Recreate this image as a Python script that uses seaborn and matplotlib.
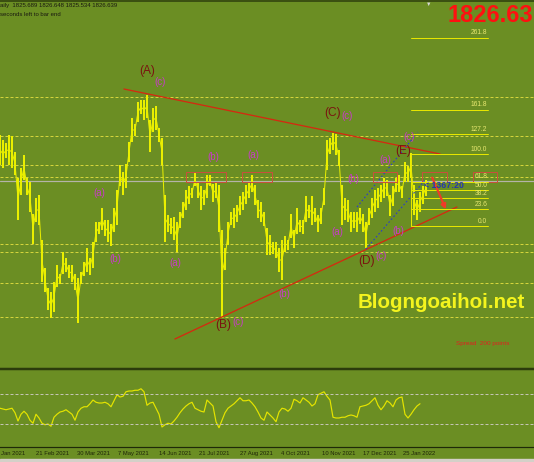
import matplotlib
matplotlib.use("Agg")
import matplotlib.pyplot as plt
import seaborn as sns
import numpy as np
import pandas as pd

# ---------------- data ----------------
bar_high = [1873, 1868, 1865, 1873, 1872, 1856, 1830, 1840, 1853, 1830,
            1826, 1794, 1810, 1813, 1768, 1740, 1720, 1716, 1726, 1743,
            1734, 1756, 1750, 1743, 1743, 1734, 1730, 1736, 1746, 1760,
            1750, 1766, 1786, 1786, 1800, 1788, 1788, 1784, 1800, 1818,
            1843, 1836, 1844, 1866, 1890, 1884, 1906, 1908, 1908, 1913,
            1888, 1900, 1902, 1880, 1870, 1813, 1793, 1790, 1791, 1786,
            1796, 1806, 1818, 1822, 1820, 1836, 1826, 1822, 1818, 1833,
            1833, 1824, 1826, 1823, 1778, 1760, 1786, 1796, 1800, 1803,
            1812, 1816, 1823, 1826, 1833, 1823, 1808, 1806, 1796, 1780,
            1773, 1766, 1766, 1760, 1768, 1772, 1768, 1794, 1778, 1800,
            1788, 1788, 1812, 1803, 1812, 1800, 1793, 1800, 1820, 1868,
            1870, 1875, 1874, 1858, 1823, 1810, 1808, 1796, 1796, 1796,
            1800, 1794, 1786, 1800, 1810, 1818, 1820, 1823, 1830, 1828,
            1813, 1822, 1830, 1833, 1822, 1846, 1842, 1855, 1823, 1808,
            1816, 1822, 1828]
bar_low = [1843, 1840, 1850, 1843, 1840, 1833, 1788, 1813, 1828, 1813,
           1796, 1764, 1786, 1783, 1726, 1716, 1698, 1690, 1696, 1721,
           1724, 1734, 1736, 1730, 1726, 1718, 1685, 1724, 1732, 1736,
           1733, 1740, 1766, 1774, 1778, 1772, 1766, 1762, 1776, 1783,
           1822, 1813, 1820, 1846, 1866, 1872, 1886, 1894, 1888, 1890,
           1856, 1876, 1878, 1866, 1843, 1766, 1776, 1774, 1768, 1756,
           1780, 1790, 1798, 1804, 1810, 1822, 1810, 1798, 1803, 1810,
           1822, 1806, 1810, 1776, 1690, 1738, 1763, 1783, 1780, 1786,
           1793, 1798, 1804, 1810, 1816, 1803, 1790, 1786, 1782, 1753,
           1753, 1754, 1750, 1736, 1728, 1756, 1758, 1770, 1760, 1774,
           1776, 1774, 1786, 1790, 1783, 1786, 1776, 1784, 1803, 1838,
           1854, 1858, 1853, 1842, 1783, 1788, 1786, 1776, 1780, 1776,
           1784, 1776, 1760, 1783, 1790, 1796, 1800, 1806, 1810, 1812,
           1792, 1802, 1816, 1816, 1810, 1826, 1826, 1830, 1793, 1788,
           1796, 1804, 1812]
osc = [51, 50, 49, 50, 51, 45, 34, 43, 47, 43, 35, 31, 43, 38, 31, 29, 30, 27,
       39, 43, 46, 47, 49, 46, 43, 35, 46, 51, 53, 53, 57, 62, 59, 58, 58, 59,
       57, 53, 61, 69, 66, 67, 73, 74, 74, 75, 75, 77, 73, 55, 58, 59, 51, 43,
       26, 29, 31, 30, 34, 39, 45, 50, 54, 57, 59, 51, 49, 47, 46, 62, 58, 54,
       33, 25, 35, 45, 51, 54, 57, 61, 65, 61, 61, 62, 58, 53, 46, 38, 35, 46,
       42, 38, 33, 46, 51, 50, 47, 51, 63, 61, 58, 65, 62, 59, 54, 57, 69, 71,
       73, 67, 62, 39, 38, 38, 39, 39, 41, 42, 41, 39, 53, 54, 55, 57, 61, 65,
       55, 49, 54, 61, 58, 53, 62, 65, 66, 43, 38, 43, 49, 54, 57]

tick_pos = [0.0, 11.67, 25.27, 38.87, 52.47, 66.07, 79.67, 93.27, 106.87, 120.47, 134.07]
tick_labels = ["Jan 2021", "21 Feb 2021", "30 Mar 2021", "7 May 2021", "14 Jun 2021",
               "21 Jul 2021", "27 Aug 2021", "4 Oct 2021", "10 Nov 2021", "17 Dec 2021",
               "25 Jan 2022"]

level_prices = [1911, 1872, 1843, 1831, 1764, 1756, 1725, 1691]
current_price = 1826.63
fib_high, fib_low = 1854, 1782
fib_ratios = [0.0, 23.6, 38.2, 50.0, 61.8, 100.0, 127.2, 161.8, 261.8]
fib_start, fib_end = 137.0, 162.7

major_waves = ["(A)", "(B)", "(C)", "(D)", "(E)"]
major_x = [49.0, 74.5, 111.0, 122.3, 134.3]
major_y = [1937, 1683, 1895, 1747, 1857]
minor_waves = ["(c)", "(b)", "(a)", "(a)", "(b)", "(a)", "(c)", "(b)", "(c)", "(b)",
               "(a)", "(a)", "(b)", "(c)", "(c)"]
minor_x = [53.3, 71.0, 84.3, 33.0, 38.3, 58.3, 79.2, 94.7, 115.8, 117.7, 112.3, 128.3,
           132.7, 127.0, 136.3]
minor_y = [1926, 1851, 1853, 1815, 1749, 1745, 1686, 1714, 1892, 1829, 1776, 1848,
           1777, 1752, 1871]

upper_trend_x, upper_trend_y = [41.3, 146.7], [1919, 1854]
lower_trend_x, lower_trend_y = [58.3, 152.3], [1669, 1801]
chan1_x, chan1_y = [119.0, 139.3], [1801, 1876]
chan2_x, chan2_y = [122.0, 141.7], [1759, 1828]
boxes = [(62.0, 75.3), (80.7, 90.7), (124.3, 132.3), (140.7, 149.0), (157.7, 165.7)]
box_lo, box_hi = 1826, 1836
arrow_from, arrow_to = (143.7, 1833), (149.0, 1796)

# ---------------- styling ----------------
BG = "#6b8e23"
YEL = "#eaef00"
FONT = ["Liberation Sans", "DejaVu Sans"]
sns.set_style("white")
plt.rcParams["font.family"] = FONT

W, H = 534, 462
fig = plt.figure(figsize=(W / 100, H / 100), dpi=100, facecolor=BG)

def px(v):
    return v * 0.72

# main price panel: pixel rows 1..369
ax = fig.add_axes([0, (H - 369) / H, 1, 368 / H])
ax.set_facecolor(BG)
# indicator panel: rows 371..447
ax2 = fig.add_axes([0, (H - 447) / H, 1, 76 / H])
ax2.set_facecolor(BG)

xmax = W / 3
n = len(bar_high)
idx = np.arange(n)

# price bars (high-low) plus a thin line through the bar midpoints
ax.vlines(idx, bar_low, bar_high, color=YEL, lw=px(2.0), zorder=3)
mid = pd.DataFrame({"i": idx, "m": (np.array(bar_high) + np.array(bar_low)) / 2})
sns.lineplot(data=mid, x="i", y="m", color=YEL, lw=px(1.0), ax=ax, zorder=3)

# horizontal support/resistance levels
for lv in level_prices:
    ax.axhline(lv, color="#d4d43c", lw=px(1), ls=(0, (3, 2)), zorder=1)
ax.axhline(current_price, color="#b4b4a8", lw=px(1.2), zorder=2)

# trend lines
tl = pd.DataFrame({"x": upper_trend_x + lower_trend_x,
                   "y": upper_trend_y + lower_trend_y,
                   "g": ["u", "u", "l", "l"]})
sns.lineplot(data=tl, x="x", y="y", units="g", estimator=None, color="#d42a10",
             lw=px(1.3), ax=ax, zorder=4)
ax.plot(chan1_x, chan1_y, color="#2a3ccc", lw=px(1.1), ls=(0, (1.5, 2)), zorder=4)
ax.plot(chan2_x, chan2_y, color="#2a3ccc", lw=px(1.1), ls=(0, (1.5, 2)), zorder=4)

for x0, x1 in boxes:
    ax.add_patch(plt.Rectangle((x0, box_lo), x1 - x0, box_hi - box_lo, fill=False,
                               ec="#c8503c", lw=px(1), zorder=4))

# fibonacci
rng = fib_high - fib_low
for r in fib_ratios:
    lv = fib_low + r / 100 * rng
    ax.plot([fib_start, fib_end], [lv, lv], color="#e6e600", lw=px(1), zorder=4)
    ax.text(fib_end - 0.3, lv + 1.2, f"{r:.1f}", color="#e8e870", fontsize=4.8,
            ha="right", va="bottom", zorder=5)
ax.plot([fib_start, fib_start], [fib_low, fib_high], color="#e6e600", lw=px(1), zorder=4)

ax.annotate("", xy=arrow_to, xytext=arrow_from,
            arrowprops=dict(arrowstyle="-|>", color="#f03a28", lw=px(2.2),
                            mutation_scale=7), zorder=6)
ax.text(141.3, 1823, "< 1367:20", color="#2436b0", fontsize=6.3, fontweight="bold",
        ha="left", va="center", zorder=6)

for t, x, y in zip(major_waves, major_x, major_y):
    ax.text(x, y, t, color="#7a1410", fontsize=8.6, ha="center", va="center", zorder=6)
for t, x, y in zip(minor_waves, minor_x, minor_y):
    ax.text(x, y, t, color="#c83cc8", fontsize=7.0, ha="center", va="center", zorder=6)

ax.text(147, 1705, "Blogngoaihoi.net", color="#f4f41e", fontsize=14.8,
        fontweight="bold", ha="center", va="center", zorder=6)
ax.text(152, 1664, "Spread  200 points", color="#e02020", fontsize=4.6,
        ha="left", va="center", zorder=6)

ax.set_xlim(0, xmax)
ax.set_ylim(2008 - 369, 2008 - 1)
ax.set_xticks([])
ax.set_yticks([])
for s in ["left", "right"]:
    ax.spines[s].set_visible(False)
ax.spines["top"].set_color("#2c3c0c")
ax.spines["top"].set_linewidth(px(1.5))
ax.spines["bottom"].set_color("#2c3c0c")
ax.spines["bottom"].set_linewidth(px(2.5))
ax.set_xlabel("")
ax.set_ylabel("")

# indicator panel
od = pd.DataFrame({"i": np.arange(len(osc)), "v": osc})
sns.lineplot(data=od, x="i", y="v", color="#e4e400", lw=px(1.2), ax=ax2)
for lv in (70, 30):
    ax2.axhline(lv, color="#c4c4b4", lw=px(1), ls=(0, (3, 2)))
ax2.set_xlim(0, xmax)
ax2.set_ylim(-0.7, 100.7)
ax2.set_yticks([])
ax2.set_xticks(tick_pos[1:])
ax2.set_xticklabels([])
ax2.tick_params(axis="x", length=2.5, width=px(1), color="#1e2a08", direction="out", pad=0)
for s in ["left", "right", "top"]:
    ax2.spines[s].set_visible(False)
ax2.spines["bottom"].set_color("#1e2a08")
ax2.spines["bottom"].set_linewidth(px(1.2))
ax2.set_xlabel("")
ax2.set_ylabel("")
for p, lab in zip(tick_pos, tick_labels):
    ax2.text(p + 0.4, -0.05, lab, transform=ax2.get_xaxis_transform(), fontsize=4.2,
             color="#1e2408", ha="left", va="top", clip_on=False)

# header texts
fig.text(0.0, 1 - 6 / H, "aily  1825.689 1826.648 1825.534 1826.639", fontsize=4.3,
         color="#1a1a10", ha="left", va="center")
fig.text(0.0, 1 - 15 / H, "seconds left to bar end", fontsize=4.3,
         color="#1a1a10", ha="left", va="center")
fig.text(533 / W, 1 - 16 / H, "1826.63", fontsize=17, fontweight="bold",
         color="#ff1010", ha="right", va="center")
fig.text(429 / W, 1 - 4 / H, "\u25BC", fontsize=4, color="#d8d8d8", ha="center", va="center")

# bottom window strip
fig.patches.append(plt.Rectangle((0, 0), 1, 3 / H, transform=fig.transFigure,
                                 color="#d4d0c8", zorder=0))

fig.savefig("out.png", dpi=100, facecolor=BG)
